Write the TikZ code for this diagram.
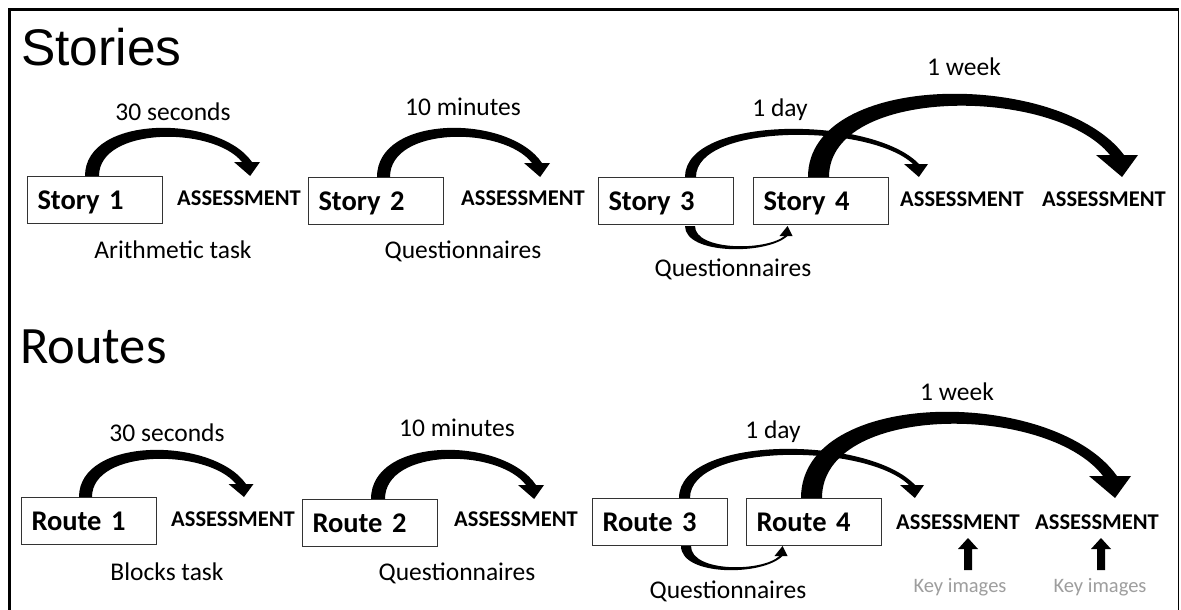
\documentclass[tikz,border=0pt]{standalone}
\usepackage{fontspec}
\setmainfont{Carlito}
\newfontfamily\arialf{Liberation Sans}
\tikzset{
  box/.style={draw=black!80, line width=1pt, anchor=north west, inner xsep=10pt, inner ysep=0pt,
    minimum height=47pt, text width=115pt, align=left, font=\bfseries\fontsize{28.5}{28.5}\selectfont,
    text height=18pt, text depth=0pt},
  assess/.style={anchor=base, inner sep=0pt, font=\bfseries\fontsize{22.5}{22.5}\selectfont},
  lbl/.style={anchor=base, inner sep=0pt, font=\fontsize{25.5}{25.5}\selectfont},
  keylbl/.style={anchor=base, inner sep=0pt, text=black!38, font=\fontsize{20.5}{20.5}\selectfont},
  title/.style={anchor=base west, inner sep=0pt},
}
% #1 x0, #2 y0, #3 xt, #4 ypeak, #5 base width, #6 peak thickness, #7 end width, #8 head width, #9 head length
\newcommand{\bigarc}[9]{%
  \pgfmathsetmacro{\baYh}{#2-#9}%
  \pgfmathsetmacro{\baXo}{#3+#7/2}%
  \pgfmathsetmacro{\baXi}{#3-#7/2}%
  \pgfmathsetmacro{\baXb}{#1+#5}%
  \pgfmathsetmacro{\baYo}{(8*#4-#2-\baYh)/6}%
  \pgfmathsetmacro{\baYi}{(8*(#4+#6)-#2-\baYh)/6}%
  \pgfmathsetmacro{\baXoc}{\baXo-0.2*(\baXo-#1)}%
  \pgfmathsetmacro{\baXic}{\baXi-0.2*(\baXi-\baXb)}%
  \pgfmathsetmacro{\baHl}{#3-#8/2}%
  \pgfmathsetmacro{\baHr}{#3+#8/2}%
  \pgfmathsetmacro{\baHt}{#3+0.12*#8}%
  \fill (#1,#2) .. controls (#1,\baYo) and (\baXoc,\baYo) .. (\baXo,\baYh) -- (\baXi,\baYh)
     .. controls (\baXic,\baYi) and (\baXb,\baYi) .. (\baXb,#2) -- cycle;
  \fill (\baHl,\baYh) -- (\baHr,\baYh) -- (\baHt,#2) -- cycle;
}
\newcommand{\keyarrow}[1]{%
  \fill (#1-4,570) -- (#1-4,549) -- (#1-10,549) -- (#1,538) -- (#1+10,549) -- (#1+4,549) -- (#1+4,570) -- cycle;
}
\begin{document}
\begin{tikzpicture}[x=1pt,y=-1pt]
\useasboundingbox (0,0) rectangle (1181,610);
\fill[white] (0,0) rectangle (1181,610);
% frame
\draw[line width=2.5pt] (9.5,612) -- (9.5,9.5) -- (1178.5,9.5);
\draw[line width=1.5pt] (1178.5,9.5) -- (1178.5,612);

% ===== Stories =====
\node[title, font=\arialf\fontsize{51.5}{51.5}\selectfont] (tStories) at (21,66) {Stories};

\node[box] (s1) at (27,176) {Story 1};
\node[box] (s2) at (308,177) {Story 2};
\node[box] (s3) at (598,177) {Story 3};
\node[box] (s4) at (753,177) {Story 4};

\node[assess] (a1) at (239,205) {ASSESSMENT};
\node[assess] (a2) at (523,205) {ASSESSMENT};
\node[assess] (a3) at (962,206) {ASSESSMENT};
\node[assess] (a4) at (1104,206) {ASSESSMENT};

\node[lbl] (l1) at (173,120) {30 seconds};
\node[lbl] (l2) at (463,115) {10 minutes};
\node[lbl] (l3) at (780,116) {1 day};
\node[lbl] (l4) at (964,76) {1 week};

\node[lbl] (q1) at (173,258) {Arithmetic task};
\node[lbl] (q2) at (463,258) {Questionnaires};
\node[lbl] (q3) at (733,276) {Questionnaires};

\bigarc{85}{176}{247}{128}{14}{9}{10}{26}{14}
\bigarc{377}{177}{537}{128}{13}{9}{10}{26}{14}
\bigarc{685}{177}{916}{129}{11}{6}{6}{24}{13}
\bigarc{808}{177}{1117}{94}{21}{12}{14}{42}{22}
\bigarc{685}{226}{786}{249}{10}{-3}{3}{13}{-10}

% ===== Routes =====
\node[title, font=\fontsize{52.5}{52.5}\selectfont] (tRoutes) at (20,363) {Routes};

\node[box] (r1) at (21,497) {Route 1};
\node[box] (r2) at (302,499) {Route 2};
\node[box] (r3) at (592,498) {Route 3};
\node[box] (r4) at (746,498) {Route 4};

\node[assess] (b1) at (233,526) {ASSESSMENT};
\node[assess] (b2) at (516,526) {ASSESSMENT};
\node[assess] (b3) at (958,529) {ASSESSMENT};
\node[assess] (b4) at (1097,529) {ASSESSMENT};

\node[lbl] (m1) at (167,441) {30 seconds};
\node[lbl] (m2) at (457,436) {10 minutes};
\node[lbl] (m3) at (773,438) {1 day};
\node[lbl] (m4) at (957,400) {1 week};

\node[lbl] (p1) at (167,580) {Blocks task};
\node[lbl] (p2) at (457,580) {Questionnaires};
\node[lbl] (p3) at (728,598) {Questionnaires};

\node[keylbl] (k1) at (960,592) {Key images};
\node[keylbl] (k2) at (1100,592) {Key images};

\bigarc{79}{497}{241}{450}{13}{9}{10}{25}{13}
\bigarc{371}{499}{531}{450}{14}{9}{10}{26}{14}
\bigarc{679}{498}{912}{449}{11}{6}{6}{24}{13}
\bigarc{801}{498}{1110}{412}{21}{12}{14}{42}{22}
\bigarc{681}{546}{781}{570}{10}{-3}{3}{13}{-10}

\keyarrow{968}
\keyarrow{1101}
\end{tikzpicture}
\end{document}
